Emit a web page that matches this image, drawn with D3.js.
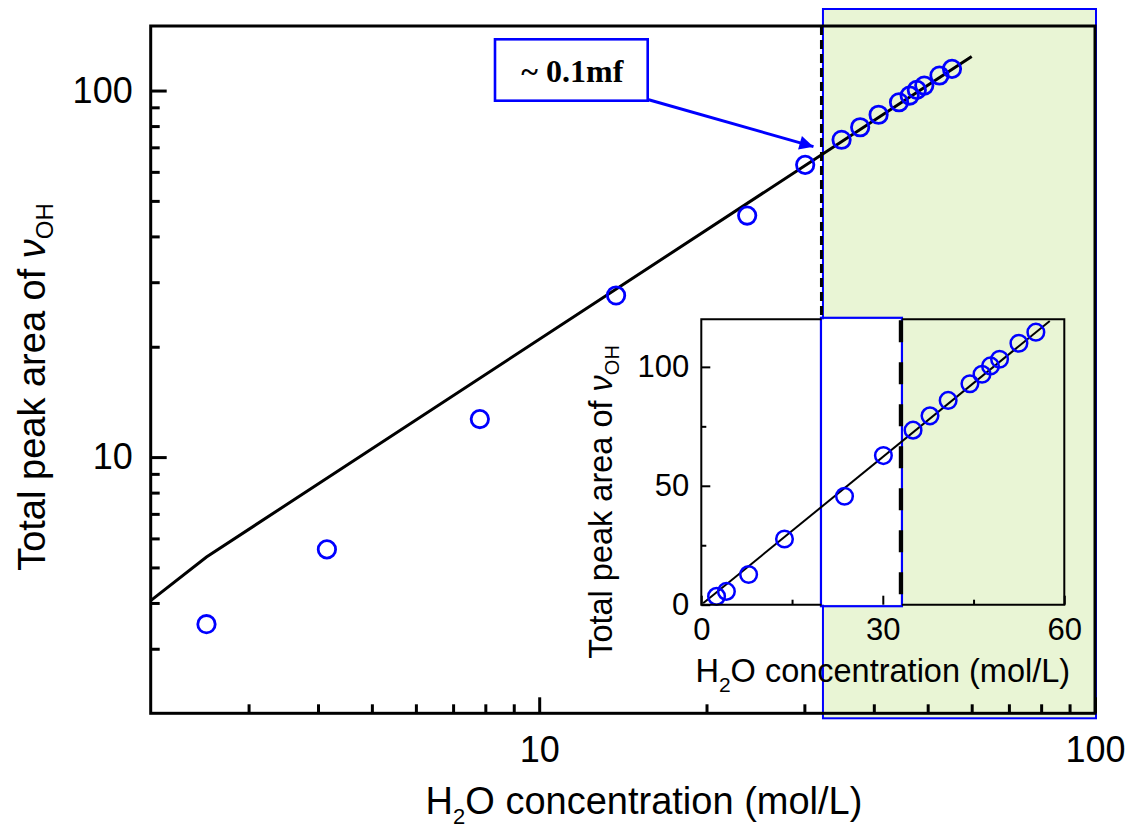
<!DOCTYPE html>
<html>
<head>
<meta charset="utf-8">
<script src="https://cdn.jsdelivr.net/npm/d3@7"></script>
<style>
  body { margin: 0; background: #ffffff; }
  svg { display: block; }
</style>
</head>
<body>
<svg id="chart" width="1128" height="830"></svg>
<script>
// Measured water concentration (mol/L) and total integrated OH-stretch peak area
const concentration = [2.52, 4.15, 7.82, 13.75, 23.67, 30.1, 35.0, 37.8, 40.8, 44.4, 46.4, 47.8, 49.3, 52.5, 55.3];
const peakArea      = [3.50, 5.60, 12.7, 27.6, 45.6, 62.7, 73.4, 79.4, 85.9, 92.9, 96.9, 100.4, 103.2, 109.9, 114.6];

// Linear fit, as drawn on the log-log axes and on the linear inset
const fitConcentration = [2, 2.52, 60];
const fitArea          = [4.06, 5.34, 123.8];
const insetFitConcentration = [0.3, 57.6];
const insetFitArea          = [0.6, 119.3];

// Tick values
const mainXMajor = [10, 100];
const mainXMinor = [3, 4, 5, 6, 7, 8, 9, 20, 30, 40, 50, 60, 70, 80, 90];
const mainYMajor = [10, 100];
const mainYMinor = [3, 4, 5, 6, 7, 8, 9, 20, 30, 40, 50, 60, 70, 80, 90];
const insetXMajor = [0, 30, 60];
const insetXMinor = [15, 45];
const insetYMajor = [0, 50, 100];
const insetYMinor = [25, 75];

// ~0.1 mole-fraction boundary and the shaded high-concentration range
const mainBoundary = 32.2;
const shadeStart = 32.4;
const insetBoundary = 33.0;
const annotationText = "~ 0.1mf";

const BLUE = "#0000ff";
const SHADE = "#e9f5d5";
const SANS = "'Liberation Sans', Arial, sans-serif";

const svg = d3.select("#chart");

// ---- main log-log panel ----
const xMain = d3.scaleLog().domain([2, 100]).range([150.7, 1095]);
const yMain = d3.scaleLog().domain([2, 150]).range([713.3, 26]);
const [mx0, mx1] = xMain.range();
const [my1, my0] = yMain.range();

// inset placement (linear axes)
const xIn = d3.scaleLinear().domain([0, 60]).range([701.3, 1064.3]);
const yIn = d3.scaleLinear().domain([0, 120]).range([604.7, 319.3]);
const [ix0, ix1] = xIn.range();
const [iy1, iy0] = yIn.range();

// shaded range with blue outline
svg.append("rect")
  .attr("x", xMain(shadeStart)).attr("y", my0 - 17)
  .attr("width", mx1 + 1 - xMain(shadeStart)).attr("height", my1 + 5 - (my0 - 17))
  .attr("fill", SHADE).attr("stroke", BLUE).attr("stroke-width", 2);

// dashed boundary line (runs down to the inset)
svg.append("line")
  .attr("x1", xMain(mainBoundary)).attr("x2", xMain(mainBoundary))
  .attr("y1", my0).attr("y2", iy0)
  .attr("stroke", "#000").attr("stroke-width", 3).attr("stroke-dasharray", "9,5");

function styleAxis(g, width, fontSize) {
  g.select(".domain").remove();
  g.selectAll(".tick line").attr("stroke", "#000").attr("stroke-width", width);
  g.selectAll(".tick text").attr("fill", "#000")
    .attr("font-family", SANS).attr("font-size", fontSize);
}

// bottom axis (ticks point inward)
svg.append("g").attr("transform", `translate(0,${my1})`)
  .call(d3.axisBottom(xMain).tickValues(mainXMinor).tickSize(-9).tickFormat(""))
  .call(g => styleAxis(g, 3, 36));
svg.append("g").attr("transform", `translate(0,${my1})`)
  .call(d3.axisBottom(xMain).tickValues(mainXMajor).tickSize(-16).tickPadding(23).tickFormat(d3.format("d")))
  .call(g => styleAxis(g, 3, 36));

// left axis
svg.append("g").attr("transform", `translate(${mx0},0)`)
  .call(d3.axisLeft(yMain).tickValues(mainYMinor).tickSize(-9).tickFormat(""))
  .call(g => styleAxis(g, 3, 36));
svg.append("g").attr("transform", `translate(${mx0},0)`)
  .call(d3.axisLeft(yMain).tickValues(mainYMajor).tickSize(-16).tickPadding(18).tickFormat(d3.format("d")))
  .call(g => styleAxis(g, 3, 36));

// frame
svg.append("rect")
  .attr("x", mx0).attr("y", my0).attr("width", mx1 - mx0).attr("height", my1 - my0)
  .attr("fill", "none").attr("stroke", "#000").attr("stroke-width", 3);

// fit line
const mainLine = d3.line().x(d => xMain(d[0])).y(d => yMain(d[1]));
svg.append("path")
  .datum(d3.zip(fitConcentration, fitArea))
  .attr("d", mainLine)
  .attr("fill", "none").attr("stroke", "#000").attr("stroke-width", 3);

// data points
svg.append("g").selectAll("circle")
  .data(d3.zip(concentration, peakArea))
  .join("circle")
  .attr("cx", d => xMain(d[0])).attr("cy", d => yMain(d[1])).attr("r", 8.7)
  .attr("fill", "none").attr("stroke", BLUE).attr("stroke-width", 2.8);

// axis titles
svg.append("text")
  .attr("x", 644).attr("y", 814)
  .attr("text-anchor", "middle").attr("font-family", SANS).attr("font-size", 38).attr("fill", "#000")
  .call(t => {
    t.append("tspan").text("H");
    t.append("tspan").attr("font-size", 22).attr("dy", 10).text("2");
    t.append("tspan").attr("dy", -10).text("O concentration (mol/L)");
  });

svg.append("text")
  .attr("transform", "translate(45,387) rotate(-90)")
  .attr("text-anchor", "middle").attr("font-family", SANS).attr("font-size", 38).attr("fill", "#000")
  .call(t => {
    t.append("tspan").text("Total peak area of ");
    t.append("tspan").attr("font-style", "italic").text("ν");
    t.append("tspan").attr("font-size", 24).attr("dy", 8).text("OH");
  });

// annotation box and arrow
const box = { x: 495, y: 39.3, w: 152.7, h: 61.4 };
svg.append("rect")
  .attr("x", box.x).attr("y", box.y).attr("width", box.w).attr("height", box.h)
  .attr("fill", "#fff").attr("stroke", BLUE).attr("stroke-width", 2.6);
svg.append("text")
  .attr("x", box.x + box.w / 2 + 1).attr("y", 82)
  .attr("text-anchor", "middle")
  .attr("font-family", "'Liberation Serif', 'Times New Roman', serif")
  .attr("font-weight", "bold").attr("font-size", 32).attr("fill", "#000")
  .text(annotationText);

svg.append("defs").append("marker")
  .attr("id", "arrowhead").attr("viewBox", "0 0 10 10")
  .attr("refX", 10).attr("refY", 5)
  .attr("markerUnits", "userSpaceOnUse").attr("markerWidth", 17).attr("markerHeight", 14)
  .attr("orient", "auto")
  .append("path").attr("d", "M0,0 L10,5 L0,10 Z").attr("fill", BLUE);

const tip = [xMain(mainBoundary) - 8, yMain(70.3)];
svg.append("line")
  .attr("x1", box.x + box.w + 1).attr("y1", box.y + box.h - 1)
  .attr("x2", tip[0]).attr("y2", tip[1])
  .attr("stroke", BLUE).attr("stroke-width", 3)
  .attr("marker-end", "url(#arrowhead)");

// ---- inset ----
const inset = svg.append("g");
inset.append("rect")
  .attr("x", ix0).attr("y", iy0).attr("width", ix1 - ix0).attr("height", iy1 - iy0)
  .attr("fill", "#fff");
inset.append("rect")
  .attr("x", xIn(insetBoundary) + 1).attr("y", iy0).attr("width", ix1 - xIn(insetBoundary) - 1).attr("height", iy1 - iy0)
  .attr("fill", SHADE);

// blue outline of the unshaded strip
inset.append("rect")
  .attr("x", xMain(mainBoundary) - 0.5).attr("y", iy0 - 1.5)
  .attr("width", xIn(insetBoundary) + 1 - xMain(mainBoundary) + 0.5).attr("height", iy1 - iy0 + 3)
  .attr("fill", "none").attr("stroke", BLUE).attr("stroke-width", 2.2);

inset.append("line")
  .attr("x1", xIn(insetBoundary)).attr("x2", xIn(insetBoundary))
  .attr("y1", iy0 + 1).attr("y2", iy1 + 8)
  .attr("stroke", "#000").attr("stroke-width", 4.3).attr("stroke-dasharray", "22,20");

inset.append("g").attr("transform", `translate(0,${iy1})`)
  .call(d3.axisBottom(xIn).tickValues(insetXMinor).tickSize(-5).tickFormat(""))
  .call(g => styleAxis(g, 2, 31));
inset.append("g").attr("transform", `translate(0,${iy1})`)
  .call(d3.axisBottom(xIn).tickValues(insetXMajor).tickSize(-9).tickPadding(13).tickFormat(d3.format("d")))
  .call(g => styleAxis(g, 2, 31));
inset.append("g").attr("transform", `translate(${ix0},0)`)
  .call(d3.axisLeft(yIn).tickValues(insetYMinor).tickSize(-5).tickFormat(""))
  .call(g => styleAxis(g, 2, 31));
inset.append("g").attr("transform", `translate(${ix0},0)`)
  .call(d3.axisLeft(yIn).tickValues(insetYMajor).tickSize(-9).tickPadding(12).tickFormat(d3.format("d")))
  .call(g => styleAxis(g, 2, 31));

inset.append("path")
  .datum(d3.zip(insetFitConcentration, insetFitArea))
  .attr("d", d3.line().x(d => xIn(d[0])).y(d => yIn(d[1])))
  .attr("fill", "none").attr("stroke", "#000").attr("stroke-width", 2);

inset.append("g").selectAll("circle")
  .data(d3.zip(concentration, peakArea))
  .join("circle")
  .attr("cx", d => xIn(d[0])).attr("cy", d => yIn(d[1])).attr("r", 8.3)
  .attr("fill", "none").attr("stroke", BLUE).attr("stroke-width", 2.5);

// inset frame (the outlined strip keeps its blue edge)
inset.append("path")
  .attr("d", `M${xMain(mainBoundary)},${iy0}H${ix0}V${iy1}H${xMain(mainBoundary)}`)
  .attr("fill", "none").attr("stroke", "#000").attr("stroke-width", 2);
inset.append("path")
  .attr("d", `M${xIn(insetBoundary) + 1},${iy0}H${ix1}V${iy1}H${xIn(insetBoundary) + 1}`)
  .attr("fill", "none").attr("stroke", "#000").attr("stroke-width", 2);

inset.append("text")
  .attr("x", (ix0 + ix1) / 2).attr("y", 681.7)
  .attr("text-anchor", "middle").attr("font-family", SANS).attr("font-size", 32.5).attr("fill", "#000")
  .call(t => {
    t.append("tspan").text("H");
    t.append("tspan").attr("font-size", 21).attr("dy", 10).text("2");
    t.append("tspan").attr("dy", -10).text("O concentration (mol/L)");
  });

inset.append("text")
  .attr("transform", "translate(612,502) rotate(-90)")
  .attr("text-anchor", "middle").attr("font-family", SANS).attr("font-size", 32.5).attr("fill", "#000")
  .call(t => {
    t.append("tspan").text("Total peak area of ");
    t.append("tspan").attr("font-style", "italic").text("ν");
    t.append("tspan").attr("font-size", 20).attr("dy", 7).text("OH");
  });
</script>
</body>
</html>
